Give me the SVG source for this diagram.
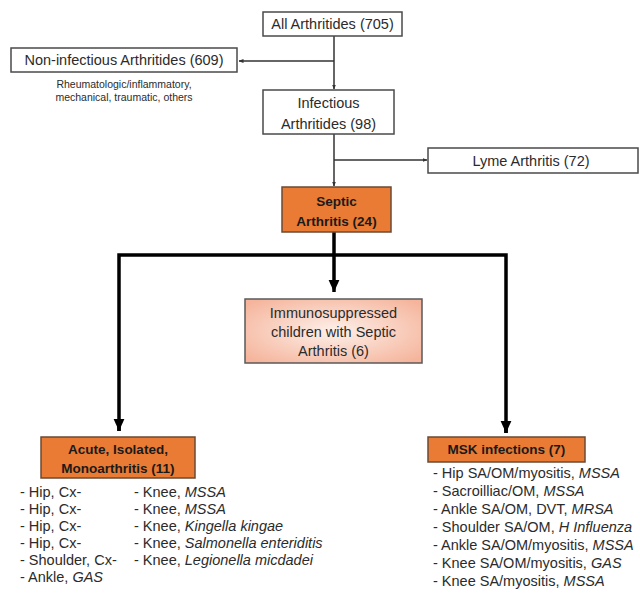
<svg xmlns="http://www.w3.org/2000/svg" width="640" height="601" viewBox="0 0 640 601">
<defs>
<style>
text{font-family:"Liberation Sans",Arial,sans-serif;fill:#2b2b2b}
.t{font-size:14.5px}
.c{text-anchor:middle}
.b{font-weight:bold;fill:#1a1a1a;font-size:13.5px}
.s{font-size:10.5px}
.l{font-size:14.5px}
.i{font-style:italic}
.box{fill:#fff;stroke:#4a4a4a;stroke-width:1.5}
.or{fill:#EA7B34;stroke:#6b4a33;stroke-width:1.5}
.thin{fill:none;stroke:#333;stroke-width:1.5}
.thick{fill:none;stroke:#000;stroke-width:3.5}
</style>
<marker id="ah" viewBox="0 0 10 10" refX="9" refY="5" markerWidth="5" markerHeight="5" orient="auto" markerUnits="userSpaceOnUse">
<path d="M0,1 L10,5 L0,9 z" fill="#333"/>
</marker>
<marker id="ahb" viewBox="0 0 10 10" refX="10" refY="5" markerWidth="12" markerHeight="12" orient="auto" markerUnits="userSpaceOnUse">
<path d="M0,0.5 L10,5 L0,9.5 z" fill="#000"/>
</marker>
<radialGradient id="pk" cx="50%" cy="50%" r="65%">
<stop offset="0" stop-color="#fdf0ea"/>
<stop offset="1" stop-color="#f5b49b"/>
</radialGradient>
</defs>

<g id="connectors">
<path class="thin" d="M334,36 V89" marker-end="url(#ah)"/>
<path class="thin" d="M334,61 H239" marker-end="url(#ah)"/>
<path class="thin" d="M334,134 V186" marker-end="url(#ah)"/>
<path class="thin" d="M334,160 H427" marker-end="url(#ah)"/>
<path class="thick" d="M334,232 V291"/>
<path class="thick" d="M119,431 V255 H506 V433"/>
<path d="M334,291 V292" class="thick" marker-end="url(#ahb)"/>
<path d="M119,420 V431" class="thick" marker-end="url(#ahb)"/>
<path d="M506,422 V433" class="thick" marker-end="url(#ahb)"/>
</g>

<g id="all">
<rect class="box" x="263" y="12" width="139" height="24"/>
<text class="t c" x="332.5" y="29">All Arthritides (705)</text>
</g>

<g id="noninf">
<rect class="box" x="11" y="48" width="226" height="24"/>
<text class="t c" x="124" y="65">Non-infectious Arthritides (609)</text>
<text class="s c" x="124" y="88">Rheumatologic/inflammatory,</text>
<text class="s c" x="124" y="101">mechanical, traumatic, others</text>
</g>

<g id="infectious">
<rect class="box" x="263" y="90" width="131" height="44"/>
<text class="t c" x="328.5" y="108">Infectious</text>
<text class="t c" x="328.5" y="129">Arthritides (98)</text>
</g>

<g id="lyme">
<rect class="box" x="428" y="148" width="210" height="25"/>
<text class="t c" x="531" y="166">Lyme Arthritis (72)</text>
</g>

<g id="septic">
<rect class="or" x="282" y="187" width="109" height="45"/>
<text class="t c b" x="336.5" y="206">Septic</text>
<text class="t c b" x="336.5" y="226">Arthritis (24)</text>
</g>

<g id="immuno">
<rect x="245" y="299" width="177" height="64" fill="url(#pk)" stroke="#5a5a5a" stroke-width="1.5"/>
<text class="t c" x="333.5" y="318" fill="#3e3430">Immunosuppressed</text>
<text class="t c" x="333.5" y="337">children with Septic</text>
<text class="t c" x="333.5" y="356">Arthritis (6)</text>
</g>

<g id="acute">
<rect class="or" x="41" y="437" width="154" height="41"/>
<text class="t c b" x="118" y="454">Acute, Isolated,</text>
<text class="t c b" x="118" y="473">Monoarthritis (11)</text>
<text class="l" x="20" y="497">- Hip, Cx-</text>
<text class="l" x="20" y="514">- Hip, Cx-</text>
<text class="l" x="20" y="531">- Hip, Cx-</text>
<text class="l" x="20" y="548">- Hip, Cx-</text>
<text class="l" x="20" y="565">- Shoulder,  Cx-</text>
<text class="l" x="20" y="582">- Ankle, <tspan class="i">GAS</tspan></text>
<text class="l" x="134" y="497">- Knee, <tspan class="i">MSSA</tspan></text>
<text class="l" x="134" y="514">- Knee, <tspan class="i">MSSA</tspan></text>
<text class="l" x="134" y="531">- Knee, <tspan class="i">Kingella kingae</tspan></text>
<text class="l" x="134" y="548">- Knee, <tspan class="i">Salmonella enteriditis</tspan></text>
<text class="l" x="134" y="565">- Knee, <tspan class="i">Legionella micdadei</tspan></text>
</g>

<g id="msk">
<rect class="or" x="428" y="437" width="157" height="25"/>
<text class="t c b" x="506.5" y="454">MSK infections (7)</text>
<text class="l" x="433" y="478">- Hip SA/OM/myositis, <tspan class="i">MSSA</tspan></text>
<text class="l" x="433" y="496">- Sacroilliac/OM, <tspan class="i">MSSA</tspan></text>
<text class="l" x="433" y="514">- Ankle SA/OM, DVT, <tspan class="i">MRSA</tspan></text>
<text class="l" x="433" y="532">- Shoulder SA/OM, <tspan class="i">H Influenza</tspan></text>
<text class="l" x="433" y="550">- Ankle SA/OM/myositis, <tspan class="i">MSSA</tspan></text>
<text class="l" x="433" y="568">- Knee SA/OM/myositis, <tspan class="i">GAS</tspan></text>
<text class="l" x="433" y="586">- Knee SA/myositis, <tspan class="i">MSSA</tspan></text>
</g>
</svg>
